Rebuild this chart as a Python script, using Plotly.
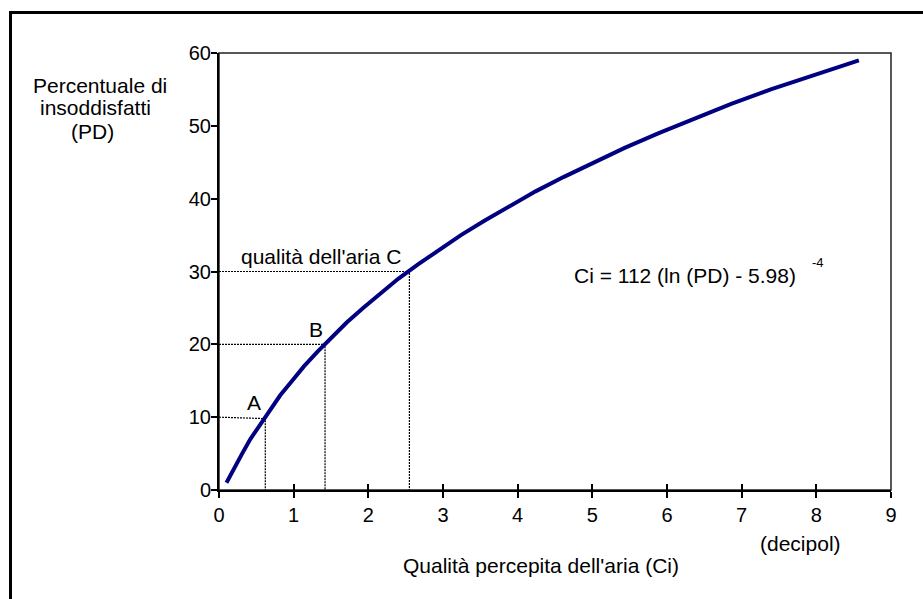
import plotly.graph_objects as go

# Curve: perceived air quality (decipol) vs percentage dissatisfied
ci_values = [0.10, 0.20, 0.31, 0.42, 0.55, 0.68, 0.82, 0.98, 1.14, 1.32,
             1.51, 1.71, 1.93, 2.16, 2.40, 2.67, 2.95, 3.24, 3.56, 3.89,
             4.24, 4.62, 5.02, 5.44, 5.89, 6.37, 6.86, 7.39, 7.96, 8.57]
pd_values = [1, 3, 5, 7, 9, 11, 13, 15, 17, 19,
             21, 23, 25, 27, 29, 31, 33, 35, 37, 39,
             41, 43, 45, 47, 49, 51, 53, 55, 57, 59]

# Guide lines for points A, B, C
guide_a_x = [0, 0.62, 0.62]
guide_a_y = [10, 9.8, 0]
guide_b_x = [0, 1.42, 1.42]
guide_b_y = [20, 20, 0]
guide_c_x = [0, 2.55, 2.55]
guide_c_y = [30, 30, 0]

x_ticks = [0, 1, 2, 3, 4, 5, 6, 7, 8, 9]
y_ticks = [0, 10, 20, 30, 40, 50, 60]

FONT = "Liberation Sans, Arial, sans-serif"

fig = go.Figure()

for gx, gy in [(guide_a_x, guide_a_y), (guide_b_x, guide_b_y), (guide_c_x, guide_c_y)]:
    fig.add_trace(go.Scatter(x=gx, y=gy, mode="lines",
                             line=dict(color="black", width=1.2, dash="2px,1px"),
                             showlegend=False, hoverinfo="skip"))

fig.add_trace(go.Scatter(x=ci_values, y=pd_values, mode="lines",
                         line=dict(color="#000080", width=4),
                         showlegend=False))

# invisible trace to anchor overlay axis (used for inside half of cross ticks)
fig.add_trace(go.Scatter(x=[0], y=[0], xaxis="x2", yaxis="y", mode="markers",
                         marker=dict(opacity=0), showlegend=False, hoverinfo="skip"))

W, H = 923, 599
L, R, T, B = 219, 32, 53, 109
pw, ph = W - L - R, H - T - B

def px(x):
    return (x - L) / pw

def py(y):
    return (H - B - y) / ph

def ann(text, x, y, xref="paper", yref="paper", size=21, xanchor="center"):
    return dict(text=text, x=x, y=y, xref=xref, yref=yref, showarrow=False,
                xanchor=xanchor, yanchor="middle", font=dict(size=size))

annotations = [
    ann("A", 0.475, 12.0, "x", "y"),
    ann("B", 1.30, 22.1, "x", "y"),
    ann("qualità dell'aria C", 1.36, 32.1, "x", "y"),
    ann("Ci = 112 (ln (PD) - 5.98)", 4.73, 29.5, "x", "y", xanchor="left"),
    ann("-4", 7.92, 31.3, "x", "y", size=13, xanchor="left"),
    ann("Percentuale di", px(100), py(85)),
    ann("insoddisfatti", px(95), py(107)),
    ann("(PD)", px(92.5), py(131)),
    ann("Qualità percepita dell'aria (Ci)", px(541), py(565)),
    ann("(decipol)", px(800), py(543)),
]

shapes = [
    # plot frame (top / right)
    dict(type="rect", xref="paper", yref="paper", x0=0, y0=0, x1=1, y1=1,
         line=dict(color="#222222", width=1.5), layer="below"),
    # outer page border (left and top)
    dict(type="line", xref="paper", yref="paper", x0=px(10.5), x1=px(10.5),
         y0=py(12.5), y1=py(700), line=dict(color="black", width=3)),
    dict(type="line", xref="paper", yref="paper", x0=px(9), x1=px(1000),
         y0=py(12.5), y1=py(12.5), line=dict(color="black", width=3)),
]

fig.update_layout(
    width=W, height=H,
    margin=dict(l=L, r=R, t=T, b=B),
    paper_bgcolor="white", plot_bgcolor="white",
    font=dict(family=FONT, size=20, color="black"),
    showlegend=False,
    xaxis=dict(range=[0, 9], tickvals=x_ticks, ticktext=[str(v) for v in x_ticks],
               ticks="outside", ticklen=6, tickwidth=2, tickcolor="black",
               showline=True, linecolor="black", linewidth=2,
               showgrid=False, zeroline=False, fixedrange=True,
               tickfont=dict(size=20)),
    xaxis2=dict(range=[0, 9], overlaying="x", anchor="y", side="bottom",
                tickvals=x_ticks, ticks="inside", ticklen=6, tickwidth=2,
                tickcolor="black", showticklabels=False, showline=False,
                showgrid=False, zeroline=False, fixedrange=True),
    yaxis=dict(range=[0, 60], tickvals=y_ticks, ticktext=[str(v) for v in y_ticks],
               ticks="outside", ticklen=6, tickwidth=2, tickcolor="black",
               showline=True, linecolor="black", linewidth=2,
               showgrid=False, zeroline=False, fixedrange=True,
               tickfont=dict(size=20), ticklabelstandoff=-4),
    annotations=annotations,
    shapes=shapes,
)

fig.write_html("out.html")
